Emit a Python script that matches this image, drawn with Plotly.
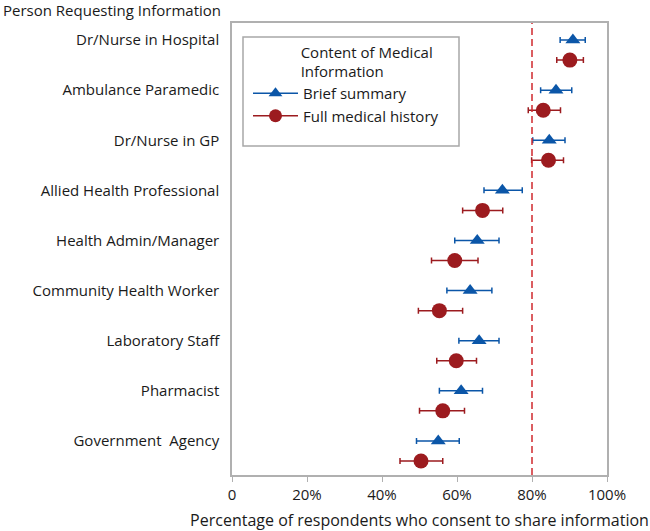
import plotly.graph_objects as go

categories = ["Dr/Nurse in Hospital", "Ambulance Paramedic", "Dr/Nurse in GP",
              "Allied Health Professional", "Health Admin/Manager",
              "Community Health Worker", "Laboratory Staff", "Pharmacist",
              "Government  Agency"]
brief = [90.9, 86.4, 84.6, 72.1, 65.4, 63.5, 65.9, 61.1, 55.0]
brief_lo = [87.5, 82.3, 80.2, 67.2, 59.4, 57.3, 60.5, 55.3, 49.2]
brief_hi = [94.2, 90.6, 88.8, 77.4, 71.2, 69.3, 71.2, 66.8, 60.6]
full = [90.1, 83.0, 84.4, 66.8, 59.4, 55.3, 59.8, 56.2, 50.4]
full_lo = [86.6, 79.0, 79.9, 61.5, 53.2, 49.7, 54.6, 50.0, 44.8]
full_hi = [93.7, 87.6, 88.4, 72.2, 65.6, 61.5, 65.2, 62.0, 56.2]
x_ticks = [0, 20, 40, 60, 80, 100]
x_ticktext = ["0", "20%", "40%", "60%", "80%", "100%"]
threshold = 80

BLUE = "#0b56a8"
RED = "#9c1b1f"
FONT = "Open Sans"
TXT = "#1a1a1a"
FS = 15
W, H = 650, 531
L, R, T, B = 232, 43, 23, 56
PW, PH = W - L - R, H - T - B


def px_x(p):
    return (p - L) / PW


def px_y(p):
    return (H - B - p) / PH


idx = list(range(len(categories)))
y_brief = [i for i in idx]
y_full = [i + 0.4 for i in idx]

fig = go.Figure()
fig.add_trace(go.Scatter(
    x=brief, y=y_brief, mode="markers", name="Brief summary", showlegend=False,
    marker=dict(symbol="triangle-up", size=13, color=BLUE),
    error_x=dict(type="data", symmetric=False,
                 array=[h - v for h, v in zip(brief_hi, brief)],
                 arrayminus=[v - l for v, l in zip(brief, brief_lo)],
                 color=BLUE, thickness=1.5, width=3),
))
fig.add_trace(go.Scatter(
    x=full, y=y_full, mode="markers", name="Full medical history", showlegend=False,
    marker=dict(symbol="circle", size=15, color=RED),
    error_x=dict(type="data", symmetric=False,
                 array=[h - v for h, v in zip(full_hi, full)],
                 arrayminus=[v - l for v, l in zip(full, full_lo)],
                 color=RED, thickness=1.5, width=3),
))
fig.add_trace(go.Scatter(x=[None], y=[None], mode="lines+markers", name="Brief summary",
                         line=dict(color=BLUE, width=1.5),
                         marker=dict(symbol="triangle-up", size=12, color=BLUE)))
fig.add_trace(go.Scatter(x=[None], y=[None], mode="lines+markers", name="Full medical history",
                         line=dict(color=RED, width=1.5),
                         marker=dict(symbol="circle", size=13, color=RED)))

fig.add_shape(type="line", x0=threshold, x1=threshold, xref="x", yref="paper", y0=0, y1=1,
              line=dict(color="#d0282e", width=1.5, dash="7px,4px"))
# legend frame
fig.add_shape(type="rect", xref="paper", yref="paper",
              x0=px_x(243), x1=px_x(459), y0=px_y(146), y1=px_y(37),
              fillcolor="white", line=dict(color="#a8a8a8", width=1.5), layer="above")

pad = "&nbsp;" * 13
fig.update_layout(
    width=W, height=H,
    margin=dict(l=L, r=R, t=T, b=B, autoexpand=False),
    paper_bgcolor="white", plot_bgcolor="white",
    font=dict(family=FONT, size=FS, color=TXT),
    showlegend=True,
    legend=dict(x=px_x(248), y=px_y(38), xanchor="left", yanchor="top",
                borderwidth=0, bgcolor="rgba(0,0,0,0)", itemwidth=45,
                font=dict(size=FS, color=TXT), tracegroupgap=0,
                title=dict(text=pad + "Content of Medical<br>" + pad + "Information",
                           font=dict(size=FS, color=TXT), side="top")),
    xaxis=dict(range=[0, 100], tickvals=x_ticks, ticktext=x_ticktext, automargin=False,
               showgrid=False, zeroline=False, showline=True, linecolor="#b0b0b0",
               linewidth=1.5, mirror=True, ticks="outside", ticklen=5,
               tickcolor="#b0b0b0", tickfont=dict(size=FS, color=TXT),
               title=dict(text="Percentage of respondents who consent to share information",
                          font=dict(size=16, color=TXT), standoff=12)),
    yaxis=dict(range=[8.68, -0.34], tickvals=idx, ticktext=categories, automargin=False,
               showgrid=False, zeroline=False, showline=True, linecolor="#b0b0b0",
               linewidth=1.5, mirror=True, ticks="", ticklabelstandoff=8,
               tickfont=dict(size=FS, color=TXT)),
)
fig.add_annotation(text="Person Requesting Information", xref="paper", yref="paper",
                   x=px_x(1), y=px_y(10), xanchor="left", yanchor="middle",
                   showarrow=False, font=dict(size=FS, color=TXT))

fig.write_html("out.html", config={"displayModeBar": False},
               post_script="document.body.style.margin='0';")
